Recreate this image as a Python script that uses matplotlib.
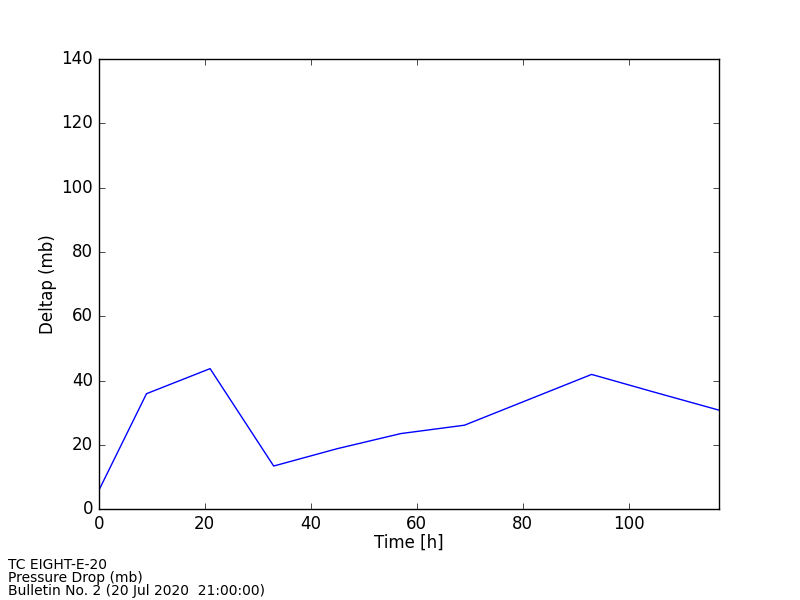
import numpy as np
import matplotlib
matplotlib.use('Agg')
import matplotlib.pyplot as plt

plt.style.use('classic')

# forecast hours and pressure drop
hours = [0, 9, 21, 33, 45, 57, 69, 81, 93, 105, 117]
deltap = [5.8, 35.9, 43.7, 13.4, 18.8, 23.5, 26.1, 34.0, 41.9, 36.3, 30.8]

info_lines = ["TC EIGHT-E-20", "Pressure Drop (mb)", "Bulletin No. 2 (20 Jul 2020  21:00:00)"]

fig = plt.figure(figsize=(8, 6), dpi=100, facecolor='white')
ax = fig.add_axes([0.1235, 0.1515, 0.775, 0.75])
ax.plot(hours, deltap, 'b-')

ax.set_xlim(0, 117)
ax.set_ylim(0, 140)
ax.set_xlabel('Time [h]', labelpad=1)
ax.set_ylabel('Deltap (mb)', labelpad=3)

fig.text(0.01, 0.003, "\n".join(info_lines), fontsize=10, ha='left', va='bottom',
         linespacing=0.9)

fig.savefig('out.png', dpi=100, facecolor='white')
